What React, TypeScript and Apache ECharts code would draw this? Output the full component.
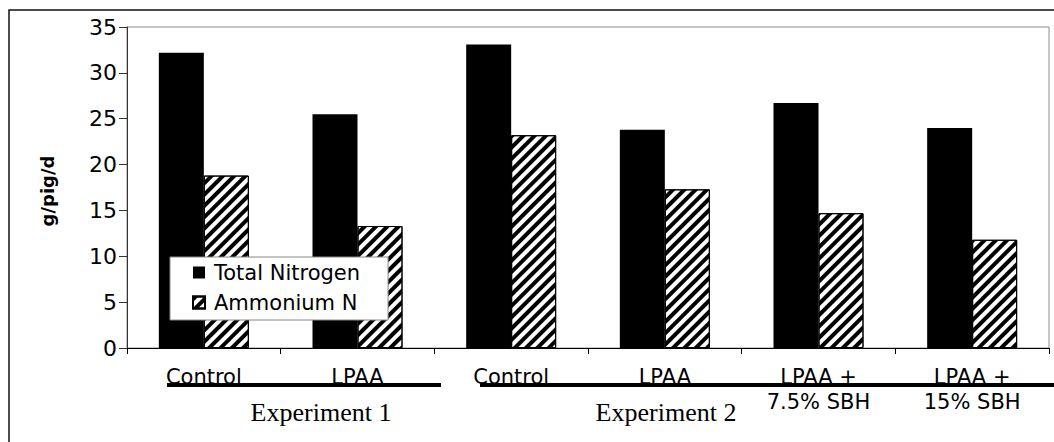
import React, { useEffect, useRef } from "react";
import * as echarts from "echarts";

const categories = ["Control", "LPAA", "Control", "LPAA", "LPAA +\n7.5% SBH", "LPAA +\n15% SBH"];
const totalNitrogen = [32.2, 25.5, 33.1, 23.8, 26.7, 24.0];
const ammoniumN = [18.8, 13.3, 23.2, 17.3, 14.7, 11.8];
const seriesNames = ["Total Nitrogen", "Ammonium N"];
const groupLabels = ["Experiment 1", "Experiment 2"];
const yTitle = "g/pig/d";

const SANS = "'DejaVu Sans', 'Liberation Sans', sans-serif";
const SERIF = "'Liberation Serif', 'Times New Roman', serif";

export default function App() {
  const ref = useRef<HTMLDivElement>(null);
  useEffect(() => {
    document.body.style.margin = "0";
    const chart = echarts.init(ref.current!, null, { renderer: "svg" });
    chart.setOption({
      animation: false,
      backgroundColor: "#fff",
      grid: { left: 127, top: 27, right: 5, bottom: 94, show: true, borderColor: "#8c8c8c", borderWidth: 1 },
      legend: {
        orient: "vertical",
        left: 170,
        top: 257,
        data: seriesNames,
        icon: "rect",
        itemWidth: 12,
        itemHeight: 12,
        itemGap: 9,
        padding: [5, 28, 7, 22],
        backgroundColor: "#fff",
        borderColor: "#888",
        borderWidth: 1,
        borderRadius: 0,
        textStyle: { fontFamily: SANS, fontSize: 21, color: "#000", lineHeight: 21, padding: [0, 0, 0, 4] },
      },
      xAxis: {
        type: "category",
        data: categories,
        axisLine: { lineStyle: { color: "#000", width: 1 } },
        axisTick: { show: true, length: 6, lineStyle: { color: "#000" } },
        axisLabel: { fontFamily: SANS, fontSize: 21, color: "#000", lineHeight: 25, margin: 16, interval: 0 },
      },
      yAxis: {
        type: "value",
        min: 0,
        max: 35,
        interval: 5,
        splitLine: { show: false },
        axisLine: { show: true, lineStyle: { color: "#333", width: 1 } },
        axisTick: { show: true, length: 8, lineStyle: { color: "#333" } },
        axisLabel: { fontFamily: SANS, fontSize: 22, color: "#000", margin: 10 },
      },
      series: [
        {
          name: seriesNames[0],
          type: "bar",
          data: totalNitrogen,
          barWidth: 45,
          barGap: "0%",
          itemStyle: { color: "#000" },
        },
        {
          name: seriesNames[1],
          type: "bar",
          data: ammoniumN,
          barWidth: 45,
          barGap: "0%",
          itemStyle: {
            color: "#fff",
            borderColor: "#000",
            borderWidth: 1,
            decal: {
              symbol: "rect",
              symbolSize: 1,
              color: "#000",
              backgroundColor: "#fff",
              dashArrayX: [1, 0],
              dashArrayY: [4, 4],
              rotation: -Math.PI / 4,
            },
          },
        },
      ],
      graphic: [
        {
          type: "rect",
          shape: { x: 9, y: 10, width: 1100, height: 500 },
          style: { fill: "none", stroke: "#111", lineWidth: 1.5 },
          silent: true,
        },
        {
          type: "text",
          x: 47,
          y: 191,
          rotation: Math.PI / 2,
          style: { text: yTitle, font: `bold 18px ${SANS}`, fill: "#000", align: "center", verticalAlign: "middle" },
        },
        { type: "line", shape: { x1: 167, y1: 385, x2: 441, y2: 385 }, style: { stroke: "#000", lineWidth: 4 } },
        { type: "line", shape: { x1: 480, y1: 385, x2: 1060, y2: 385 }, style: { stroke: "#000", lineWidth: 4 } },
        {
          type: "text",
          x: 321,
          y: 412,
          style: { text: groupLabels[0], font: `26px ${SERIF}`, fill: "#000", align: "center", verticalAlign: "middle" },
        },
        {
          type: "text",
          x: 666,
          y: 412,
          style: { text: groupLabels[1], font: `26px ${SERIF}`, fill: "#000", align: "center", verticalAlign: "middle" },
        },
      ],
    });
    return () => chart.dispose();
  }, []);
  return <div ref={ref} style={{ width: 1054, height: 442, position: "absolute", left: 0, top: 0 }} />;
}
